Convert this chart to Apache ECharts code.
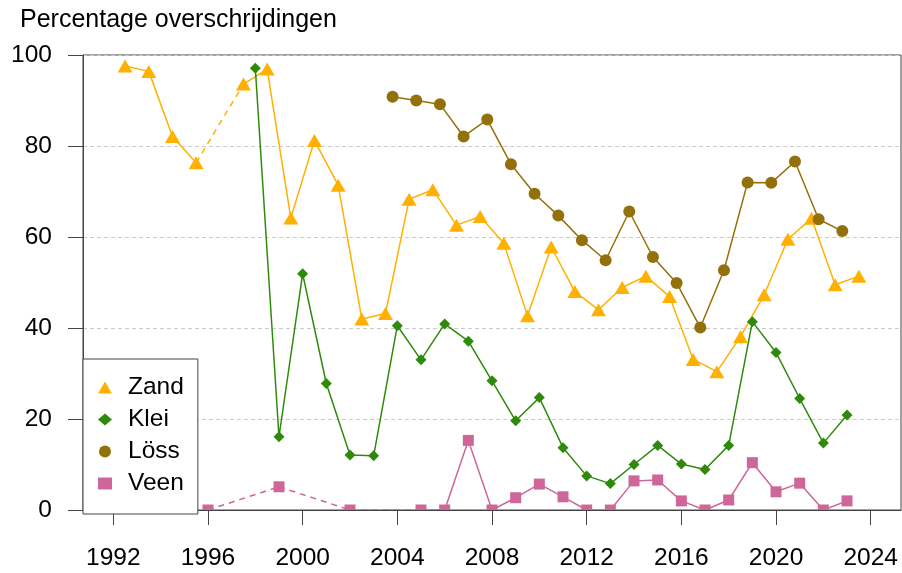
<!DOCTYPE html>
<html>
<head>
<meta charset="utf-8">
<title>Percentage overschrijdingen</title>
<script src="https://cdn.jsdelivr.net/npm/echarts@6/dist/echarts.min.js"></script>
<style>
  html, body { margin: 0; padding: 0; background: #fff; }
  #chart { width: 902px; height: 573px; }
</style>
</head>
<body>
<div id="chart"></div>
<script>
// meetjaren (Zand halverwege het jaar, Löss iets later geplot)
var zandYears = [1992.5, 1993.5, 1994.5, 1995.5, 1996.5, 1997.5, 1998.5, 1999.5, 2000.5, 2001.5,
  2002.5, 2003.5, 2004.5, 2005.5, 2006.5, 2007.5, 2008.5, 2009.5, 2010.5, 2011.5,
  2012.5, 2013.5, 2014.5, 2015.5, 2016.5, 2017.5, 2018.5, 2019.5, 2020.5, 2021.5, 2022.5, 2023.5];
var zandValues = [97.6, 96.4, 82.1, 76.3, null, 93.6, 96.9, 64.2, 81.2, 71.4,
  42.0, 43.2, 68.3, 70.4, 62.6, 64.5, 58.6, 42.7, 57.8, 48.0,
  44.0, 48.9, 51.4, 46.9, 33.1, 30.4, 38.1, 47.3, 59.5, 64.1, 49.5, 51.4];

var kleiYears = [1998, 1999, 2000, 2001, 2002, 2003, 2004, 2005, 2006, 2007, 2008, 2009, 2010,
  2011, 2012, 2013, 2014, 2015, 2016, 2017, 2018, 2019, 2020, 2021, 2022, 2023];
var kleiValues = [97.1, 16.1, 51.9, 27.8, 12.1, 11.9, 40.5, 33.0, 40.9, 37.1, 28.4, 19.6, 24.7,
  13.7, 7.5, 5.8, 10.0, 14.2, 10.1, 8.9, 14.2, 41.4, 34.6, 24.5, 14.7, 20.9];

var lossYears = [2003.8, 2004.8, 2005.8, 2006.8, 2007.8, 2008.8, 2009.8, 2010.8, 2011.8, 2012.8,
  2013.8, 2014.8, 2015.8, 2016.8, 2017.8, 2018.8, 2019.8, 2020.8, 2021.8, 2022.8];
var lossValues = [90.8, 90.0, 89.2, 82.1, 85.8, 76.0, 69.5, 64.7, 59.3, 54.9,
  65.6, 55.6, 49.9, 40.1, 52.7, 72.0, 71.9, 76.6, 63.9, 61.3];

var veenYears = [1996, 1997, 1998, 1999, 2000, 2001, 2002, 2003, 2004, 2005, 2006, 2007, 2008, 2009,
  2010, 2011, 2012, 2013, 2014, 2015, 2016, 2017, 2018, 2019, 2020, 2021, 2022, 2023];
var veenValues = [0, null, null, 5.1, null, null, 0, null, null, 0, 0, 15.3, 0, 2.7,
  5.7, 2.9, 0, 0, 6.4, 6.6, 2.0, 0, 2.2, 10.4, 4.0, 5.9, 0, 2.0];

var xTicks = [1992, 1996, 2000, 2004, 2008, 2012, 2016, 2020, 2024];

var FONT = "'Liberation Sans', Arial, Helvetica, sans-serif";

// doorlopende lijn: ontbrekende jaren breken de lijn
function solidData(years, values) {
  return years.map(function (y, i) {
    return [y, values[i] == null ? '-' : values[i]];
  });
}

// gestippelde lijn over de ontbrekende jaren heen
function gapData(years, values) {
  var out = [];
  var prev = -1;
  for (var i = 0; i < years.length; i++) {
    if (values[i] == null) continue;
    if (prev >= 0 && i - prev > 1) {
      out.push([years[prev], values[prev]]);
      out.push([years[i], values[i]]);
      out.push(['-', '-']);
    }
    prev = i;
  }
  return out;
}

function makeSeries(name, years, values, color, symbol, size) {
  return [
    {
      name: name,
      type: 'line',
      data: gapData(years, values),
      symbol: 'none',
      connectNulls: false,
      silent: true,
      lineStyle: { color: color, width: 1.5, type: [6, 5] },
      itemStyle: { color: color },
      z: 2
    },
    {
      name: name,
      type: 'line',
      data: solidData(years, values),
      symbol: symbol,
      symbolSize: size,
      connectNulls: false,
      lineStyle: { color: color, width: 1.5 },
      itemStyle: { color: color },
      z: 2
    }
  ];
}

var chart = echarts.init(document.getElementById('chart'));

var series = []
  .concat(makeSeries('Zand', zandYears, zandValues, '#FFB000', 'triangle', [15, 13]))
  .concat(makeSeries('Klei', kleiYears, kleiValues, '#2F8A0C', 'diamond', 11))
  .concat(makeSeries('Löss', lossYears, lossValues, '#94700A', 'circle', 12))
  .concat(makeSeries('Veen', veenYears, veenValues, '#CF669A', 'rect', 11));

chart.setOption({
  backgroundColor: '#fff',
  animation: false,
  textStyle: { fontFamily: FONT },
  title: {
    text: 'Percentage overschrijdingen',
    left: 20,
    top: 8,
    padding: 0,
    textStyle: { fontFamily: FONT, fontSize: 25, fontWeight: 'normal', color: '#000' }
  },
  grid: {
    left: 83,
    right: 1,
    top: 55,
    bottom: 63,
    show: true,
    borderColor: '#444',
    borderWidth: 1,
    backgroundColor: 'transparent'
  },
  legend: {
    orient: 'vertical',
    left: 83,
    top: 359,
    padding: [16, 14, 18, 15],
    itemGap: 7,
    itemWidth: 14,
    itemHeight: 12,
    backgroundColor: '#fff',
    borderColor: '#444',
    borderWidth: 1,
    z: 20,
    data: [
      { name: 'Zand', icon: 'triangle' },
      { name: 'Klei', icon: 'diamond' },
      { name: 'Löss', icon: 'circle' },
      { name: 'Veen', icon: 'rect' }
    ],
    formatter: function (name) { return '{t|' + name + '}'; },
    textStyle: {
      fontFamily: FONT,
      fontSize: 24.5,
      color: '#000',
      rich: { t: { fontFamily: FONT, fontSize: 24.5, lineHeight: 24, color: '#000', padding: [0, 0, 0, 11] } }
    }
  },
  xAxis: {
    type: 'value',
    min: 1990.72,
    max: 2025.28,
    z: 10,
    axisLine: { show: true, lineStyle: { color: '#444', width: 1 } },
    axisTick: { show: true, length: 15, customValues: xTicks, lineStyle: { color: '#444' } },
    axisLabel: {
      customValues: xTicks,
      margin: 36,
      fontFamily: FONT,
      fontSize: 24.5,
      color: '#000',
      formatter: function (v) { return String(v); }
    },
    splitLine: { show: false }
  },
  yAxis: {
    type: 'value',
    min: 0,
    max: 100,
    interval: 20,
    axisLine: { show: true, lineStyle: { color: '#444', width: 1 } },
    axisTick: { show: true, length: 15, lineStyle: { color: '#444' } },
    axisLabel: { margin: 31, fontFamily: FONT, fontSize: 24.5, color: '#000' },
    splitLine: { show: true, lineStyle: { color: '#cacaca', width: 1, type: [4, 3] } }
  },
  // R knipt de symbolen af op de rand van het plotvlak
  graphic: [{
    type: 'rect',
    shape: { x: 84, y: 511, width: 816, height: 62 },
    style: { fill: '#fff' },
    z: 5,
    silent: true
  }],
  series: series
});
</script>
</body>
</html>
